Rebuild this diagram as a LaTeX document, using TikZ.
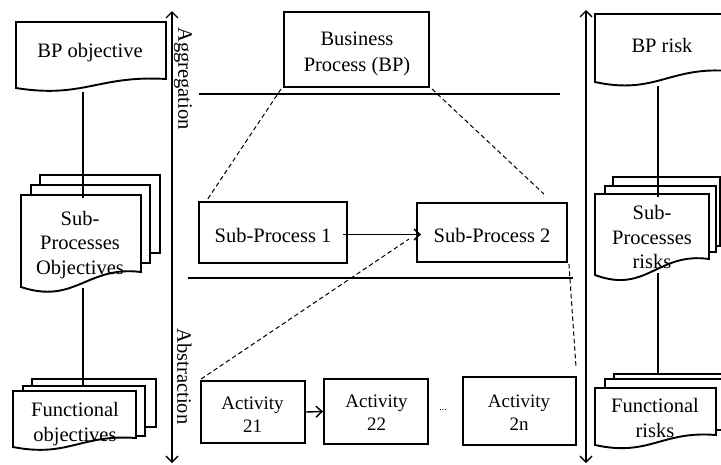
\documentclass[tikz,border=0pt]{standalone}
\usepackage{fontspec}
\setmainfont{Liberation Serif}
\usetikzlibrary{calc,arrows.meta}
\newcommand{\docshape}[5]{%
  \draw[docpage] (#1,#2) -- (#3,#2) -- (#3,#4)
    .. controls ({#1+0.55*(#3-#1)},{#4-0.45*#5}) and ({#1+0.45*(#3-#1)},{#4+2.2*#5}) ..
    (#1,{#4+#5}) -- cycle;}
\begin{document}
\begin{tikzpicture}[x=1pt,y=-1pt,
  box/.style={draw,line width=1.9pt,inner sep=0pt},
  docpage/.style={draw,line width=1.9pt,fill=white},
  txt/.style={align=center,inner sep=0pt,font=\fontsize{20.5}{24.5}\selectfont},
  btxt/.style={align=center,inner sep=0pt,font=\fontsize{20.5}{26}\selectfont},
  atxt/.style={align=center,inner sep=0pt,font=\fontsize{19}{23}\selectfont},
  dline/.style={line width=1pt,dash pattern=on 4.5pt off 3pt},
  link/.style={line width=1.9pt},
  axarrow/.style={line width=1.4pt,{Straight Barb[length=6pt,width=12pt]}-{Straight Barb[length=6pt,width=12pt]}},
  flow/.style={line width=1.4pt,-{Straight Barb[length=6pt,width=11pt]}}
]
\useasboundingbox (0,0) rectangle (721,464);
\clip (0,0) rectangle (721,464);

% axes
\coordinate (axLt) at (172,11);
\coordinate (axLb) at (172,463);
\coordinate (axRt) at (586,10);
\coordinate (axRb) at (586,463);
\draw[axarrow] (axLt) -- (axLb);
\draw[axarrow] (axRt) -- (axRb);
\node[txt,rotate=-90] (agg) at (183,78.5) {Aggregation};
\node[txt,rotate=-90] (abs) at (184.5,376.5) {Abstraction};

% separators
\coordinate (h1a) at (199,94);
\coordinate (h1b) at (560,94);
\coordinate (h2a) at (188,278);
\coordinate (h2b) at (573,278);
\draw[link] (h1a) -- (h1b);
\draw[link] (h2a) -- (h2b);

% left documents
\docshape{16}{22}{166}{79}{9}
\node[txt] (bpo) at (90,53) {BP objective};

\draw[docpage] (40,175) rectangle (160,253);
\draw[docpage] (31,185) rectangle (150,263);
\docshape{21}{195}{141}{272}{15}
\node[txt] (spo) at (80,245) {Sub-\\Processes\\Objectives};

\draw[docpage] (32,379) rectangle (156,427);
\draw[docpage] (23,386) rectangle (145,436);
\docshape{13}{391}{136}{438}{9}
\node[txt] (fo) at (75,424) {Functional\\objectives};

\coordinate (lo1) at (83,92);
\coordinate (lo2) at (83,198);
\coordinate (lo3) at (83,288);
\coordinate (lo4) at (83,387);
\draw[link] (lo1) -- (lo2);
\draw[link] (lo3) -- (lo4);

% right documents
\docshape{595}{14}{730}{71}{11}
\node[txt] (bpr) at (662,45) {BP risk};

\draw[docpage] (613,177) rectangle (720,246);
\draw[docpage] (605,186) rectangle (716,252);
\docshape{595}{194}{709}{259}{16}
\node[txt] (spr) at (652,237) {Sub-\\Processes\\risks};

\draw[docpage] (614,374) rectangle (735,425);
\draw[docpage] (605,379) rectangle (726,430);
\docshape{595}{388}{716}{435}{10}
\node[txt] (fr) at (655,418) {Functional\\risks};

\coordinate (ro1) at (658,86);
\coordinate (ro2) at (658,197);
\coordinate (ro3) at (658,273);
\coordinate (ro4) at (658,374);
\draw[link] (ro1) -- (ro2);
\draw[link] (ro3) -- (ro4);

% process boxes
\node[box,minimum width=145pt,minimum height=75pt] (bp) at (356.5,49.5) {};
\node[btxt] (bpt) at (357,53.5) {Business\\Process (BP)};
\node[box,minimum width=148pt,minimum height=61pt] (sp1) at (273,232.5) {};
\node[btxt] (sp1t) at (273,235) {Sub-Process 1};
\node[box,minimum width=150pt,minimum height=59pt] (sp2) at (492,232.5) {};
\node[btxt] (sp2t) at (492,235) {Sub-Process 2};
\node[box,minimum width=104pt,minimum height=62pt] (a21) at (253,412) {};
\node[atxt] (a21t) at (252.5,414.5) {Activity\\21};
\node[box,minimum width=104pt,minimum height=65pt] (a22) at (376,411.5) {};
\node[atxt] (a22t) at (376.5,413) {Activity\\22};
\node[box,minimum width=113pt,minimum height=68pt] (a2n) at (519.5,411) {};
\node[atxt] (a2nt) at (519,413) {Activity\\2n};
\node[inner sep=0pt,font=\fontsize{10}{10}\selectfont] (dots) at (443,410) {...};

\draw[flow] ($(sp1.east)+(-5,2)$) -- ($(sp2.west)+(5,2)$);
\draw[flow] (a21.east) -- (a22.west);

% dashed refinement lines
\draw[dline] ($(bp.south west)+(-2,1)$) -- ($(sp1.north west)+(9,-1)$);
\draw[dline] ($(bp.south east)+(2,1)$) -- ($(sp2.north east)+(-24,-8)$);
\draw[dline] ($(a21.north west)+(1,-1)$) -- ($(sp2.west)+(-7,6.5)$);
\draw[dline] ($(sp2.south east)+(1,1)$) -- ($(a2n.north east)+(-1,-10)$);
\end{tikzpicture}
\end{document}
